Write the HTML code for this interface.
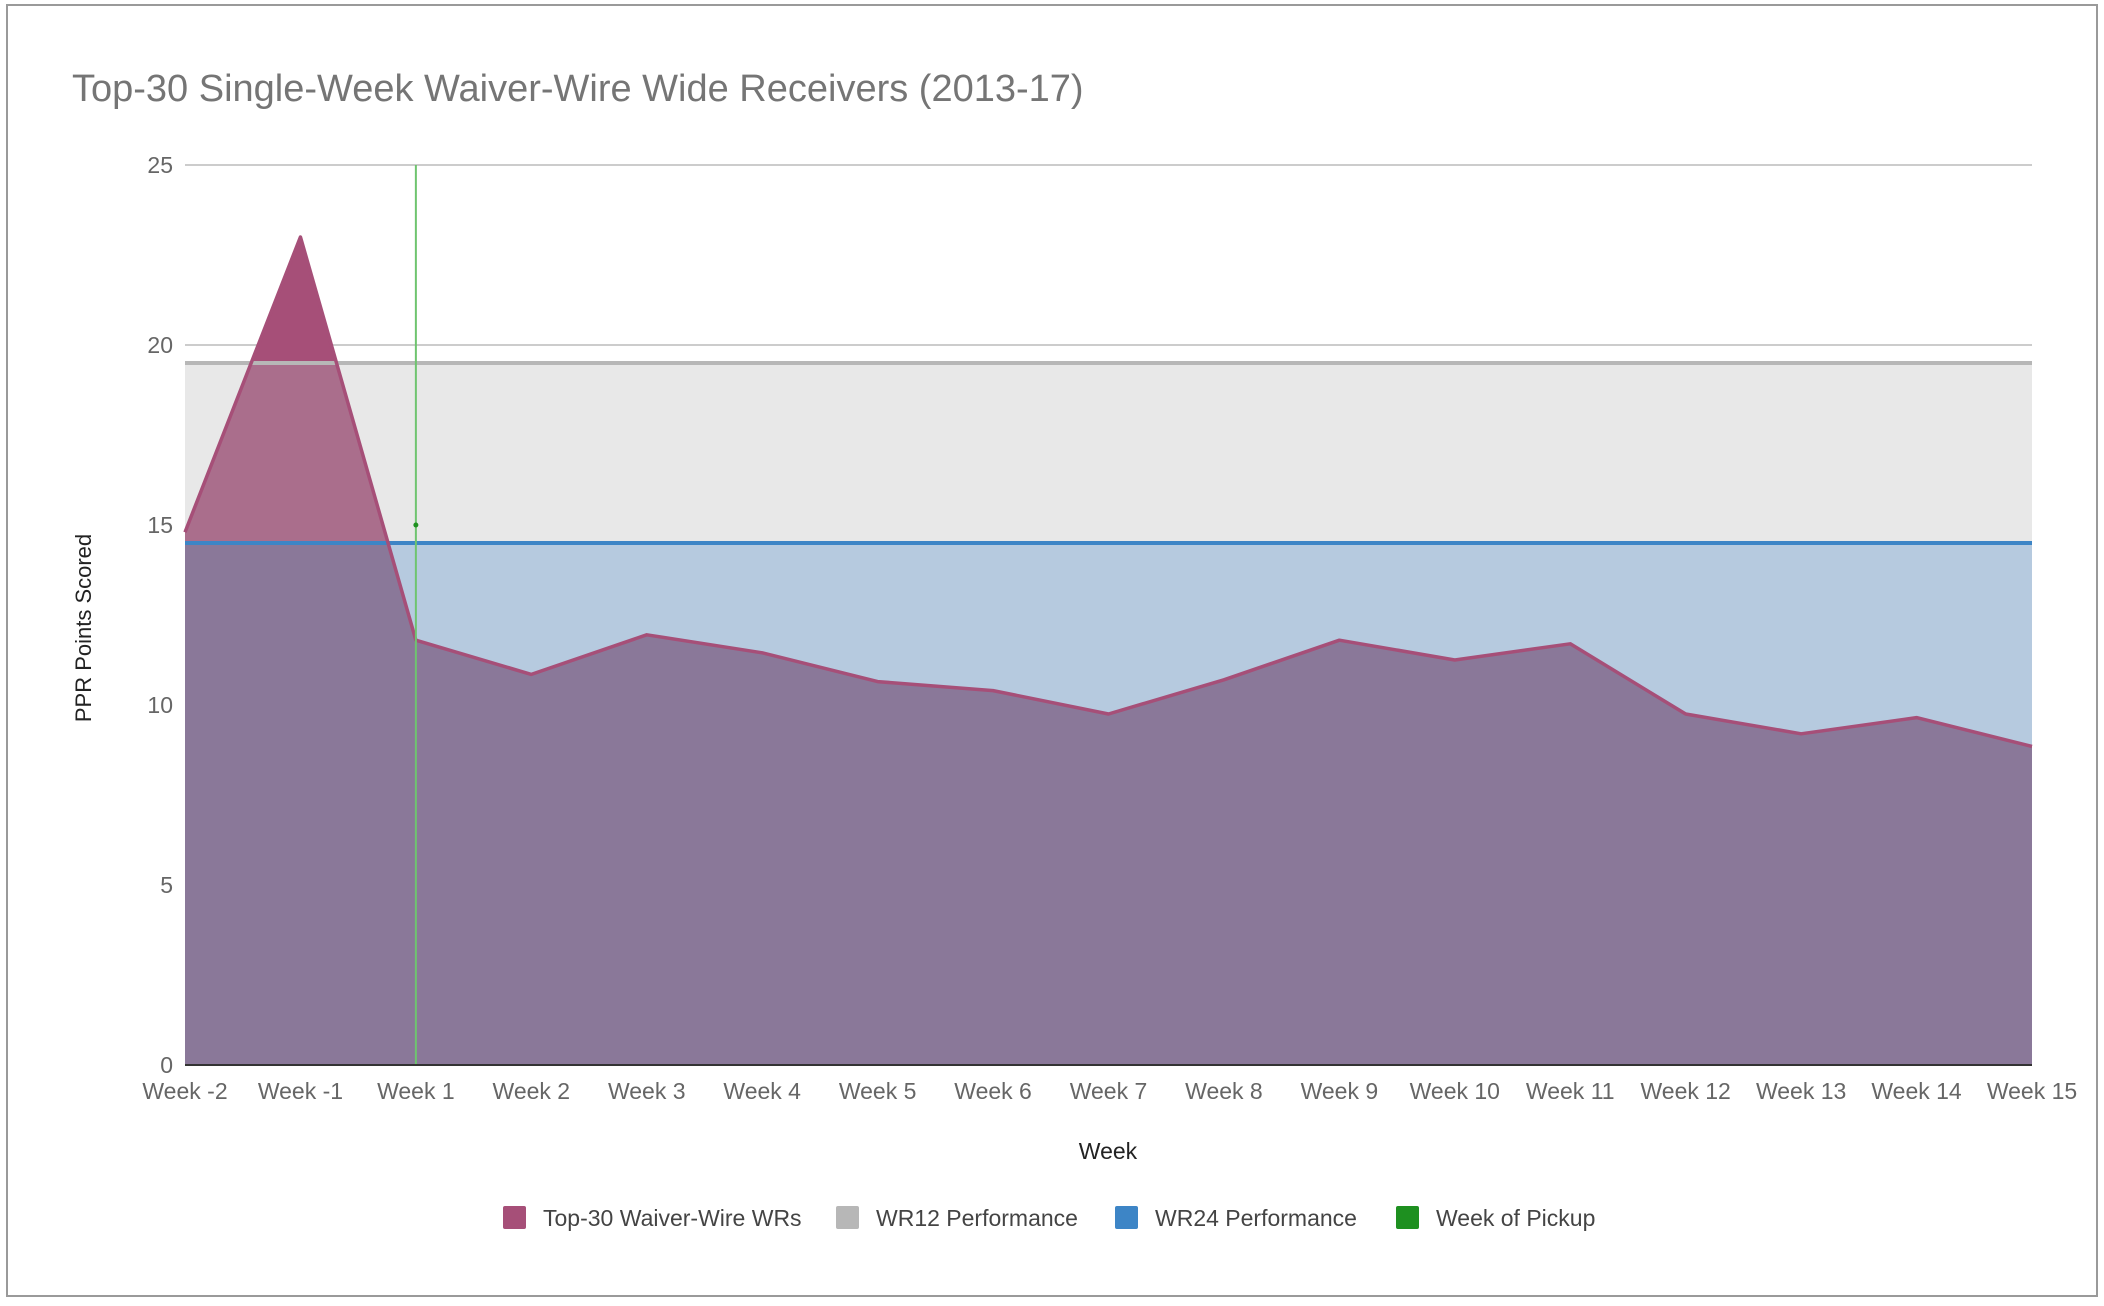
<!DOCTYPE html>
<html><head><meta charset="utf-8"><style>
html,body{margin:0;padding:0;background:#fff}
svg{display:block}
text{font-family:"Liberation Sans",sans-serif}
</style></head><body>
<svg id="chart" width="2104" height="1306" xmlns="http://www.w3.org/2000/svg">
<rect x="7" y="5" width="2090" height="1291" fill="#fff" stroke="#9a9a9a" stroke-width="2"/>
<text x="72" y="101" font-size="38" fill="#757575">Top-30 Single-Week Waiver-Wire Wide Receivers (2013-17)</text>
<g id="plot"></g>
<text x="1108" y="1159" font-size="23" fill="#222" text-anchor="middle">Week</text>
<text transform="translate(91,628) rotate(-90)" font-size="22" fill="#222" text-anchor="middle">PPR Points Scored</text>
<g>
<g><rect x="503" y="1206" width="23" height="23" rx="2" fill="#a64f78"/><text x="543" y="1226" font-size="23" fill="#444">Top-30 Waiver-Wire WRs</text></g>
<g><rect x="836" y="1206" width="23" height="23" rx="2" fill="#b7b7b7"/><text x="876" y="1226" font-size="23" fill="#444">WR12 Performance</text></g>
<g><rect x="1115" y="1206" width="23" height="23" rx="2" fill="#3d85c6"/><text x="1155" y="1226" font-size="23" fill="#444">WR24 Performance</text></g>
<g><rect x="1396" y="1206" width="23" height="23" rx="2" fill="#1e9020"/><text x="1436" y="1226" font-size="23" fill="#444">Week of Pickup</text></g>
</g>
</svg>
<script>
const categories = ["Week -2","Week -1","Week 1","Week 2","Week 3","Week 4","Week 5","Week 6","Week 7","Week 8","Week 9","Week 10","Week 11","Week 12","Week 13","Week 14","Week 15"];
const waiverValues = [14.8,23.0,11.8,10.85,11.95,11.45,10.65,10.4,9.75,10.7,11.8,11.25,11.7,9.75,9.2,9.65,8.85];
const wr12Value = 19.5;
const wr24Value = 14.5;
const pickupWeek = "Week 1";
const pickupMarker = 15;
const yTicks = [0,5,10,15,20,25];

const NS = "http://www.w3.org/2000/svg";
const L = 185, R = 2032, T = 165, B = 1065, YMAX = 25;
const x = i => L + i * (R - L) / (categories.length - 1);
const y = v => B - v / YMAX * (B - T);
const plot = document.getElementById('plot');
function mk(tag, attrs, parent) {
  const e = document.createElementNS(NS, tag);
  for (const k in attrs) e.setAttribute(k, attrs[k]);
  (parent || plot).appendChild(e);
  return e;
}
// gridlines & y labels
yTicks.forEach(t => {
  const g = mk('line', {x1: L, x2: R, y1: y(t), y2: y(t), stroke: '#cccccc', 'stroke-width': 2});
  
  
  const lb = mk('text', {x: 173, y: y(t) + 8, 'font-size': 23, fill: '#666', 'text-anchor': 'end'});
  lb.textContent = t;
  
  
});
// WR12 area
const a12 = mk('rect', {x: L, y: y(wr12Value), width: R - L, height: B - y(wr12Value), fill: '#e8e8e8'});


const a24 = mk('rect', {x: L, y: y(wr24Value), width: R - L, height: B - y(wr24Value), fill: '#b6cadf'});


// clip paths
const defs = mk('defs', {});
function clip(id, y1, y2) {
  const c = mk('clipPath', {id: id}, defs);
  mk('rect', {x: 0, y: y1, width: 2104, height: y2 - y1}, c);
}
clip('cTop', 0, y(wr12Value));
clip('cMid', y(wr12Value), y(wr24Value));
clip('cBot', y(wr24Value), 2000);
let pts = waiverValues.map((v, i) => x(i) + ',' + y(v)).join(' ');
const poly = pts + ' ' + x(waiverValues.length - 1) + ',' + B + ' ' + L + ',' + B;
[['cTop', '#a64f78'], ['cMid', '#aa6e8c'], ['cBot', '#8a7899']].forEach(([c, col]) => {
  const p = mk('polygon', {points: poly, fill: col, 'clip-path': 'url(#' + c + ')'});
  
  
});
// lines
const l12 = mk('line', {x1: L, x2: R, y1: y(wr12Value), y2: y(wr12Value), stroke: '#b7b7b7', 'stroke-width': 4});


const l24 = mk('line', {x1: L, x2: R, y1: y(wr24Value), y2: y(wr24Value), stroke: '#3d85c6', 'stroke-width': 4});


const wl = mk('polyline', {points: pts, fill: 'none', stroke: '#a64f78', 'stroke-width': 3.5, 'stroke-linejoin': 'round'});


// pickup line
const pi = categories.indexOf(pickupWeek);
const pl = mk('line', {x1: x(pi), x2: x(pi), y1: y(25), y2: B, stroke: '#6fc46f', 'stroke-width': 2});


const pd = mk('circle', {cx: x(pi), cy: y(pickupMarker), r: 2.5, fill: '#1e9020'});


// baseline
const bl = mk('line', {x1: L, x2: R, y1: B, y2: B, stroke: '#333', 'stroke-width': 2});


// x labels
categories.forEach((c, i) => {
  const t = mk('text', {x: x(i), y: 1099, 'font-size': 23, fill: '#666', 'text-anchor': 'middle'});
  t.textContent = c;
  
  
});
</script>
</body></html>
